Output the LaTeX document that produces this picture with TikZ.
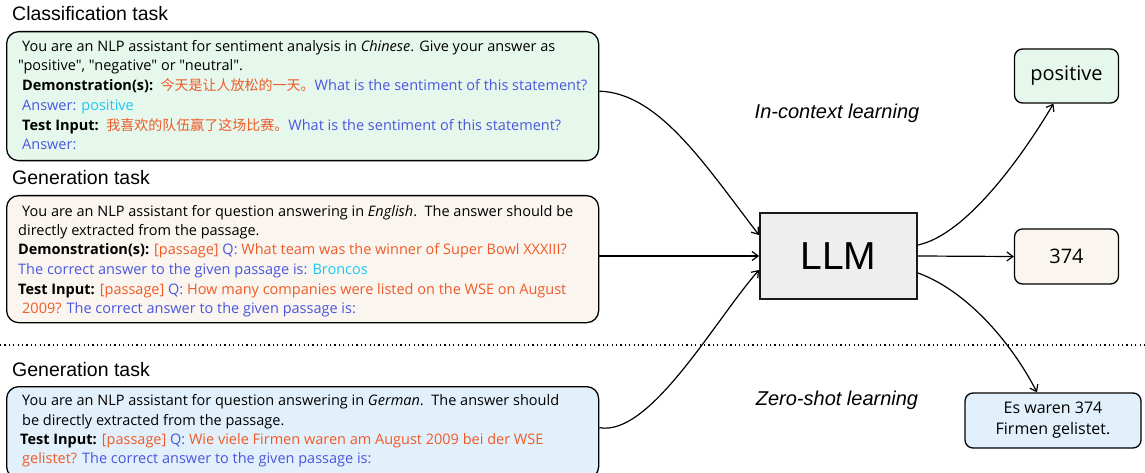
\documentclass[tikz,border=0pt]{standalone}
\usepackage{fontspec}
\setmainfont{Open Sans}
\newfontfamily\plainq{Open Sans}[Ligatures=TeXOff]
\newfontfamily\helv{Liberation Sans}
\newfontfamily\cjk{Noto Sans CJK SC}
\usetikzlibrary{arrows.meta}
\definecolor{qorange}{HTML}{F05A28}
\definecolor{qblue}{HTML}{4A56E0}
\definecolor{qcyan}{HTML}{1DC8F2}
\definecolor{mintbg}{HTML}{E6F8EC}
\definecolor{beigebg}{HTML}{FAF6EF}
\definecolor{skybg}{HTML}{E1F0FA}
\definecolor{llmbg}{HTML}{EEEEEE}
\newcommand{\og}[1]{\textcolor{qorange}{#1}}
\newcommand{\bl}[1]{\textcolor{qblue}{#1}}
\newcommand{\cy}[1]{\textcolor{qcyan}{#1}}
\newcommand{\zh}[1]{\textcolor{qorange}{\cjk\fontsize{14}{16}\selectfont #1}}
\begin{document}
\begin{tikzpicture}[x=1pt,y=-1pt,
  panel/.style={draw=black, line width=1.3pt, rounded corners=12pt, anchor=north west, inner sep=0pt},
  outbox/.style={draw=black, line width=1.3pt, rounded corners=8pt, inner sep=0pt, align=center},
  txt/.style={anchor=base west, inner sep=0pt, font=\fontsize{14.5}{16}\selectfont},
  ttl/.style={anchor=base west, inner sep=0pt, font=\helv\fontsize{19.5}{22}\selectfont},
  lbl/.style={inner sep=0pt, font=\helv\itshape\fontsize{20}{22}\selectfont},
  arr/.style={line width=1.2pt, -{Straight Barb[length=6pt,width=9pt,line width=1.2pt]}}
]
\useasboundingbox (0,0) rectangle (1145,473);

% titles
\node[ttl] (t1) at (12,21) {Classification task};
\node[ttl] (t2) at (12,185) {Generation task};
\node[ttl] (t3) at (12,376) {Generation task};

% panels
\node[panel, fill=mintbg, minimum width=592pt, minimum height=129pt] (cls) at (6,31) {};
\node[panel, fill=beigebg, minimum width=592pt, minimum height=127pt] (gen) at (6,195) {};
\node[panel, fill=skybg, minimum width=592pt, minimum height=92pt] (zs) at (6,386) {};

% panel 1 text
\node[txt] (c1) at (22,52) {You are an NLP assistant for sentiment analysis in \textit{Chinese}. Give your answer as};
\node[txt] (c2) at (18,71) {\plainq "positive", "negative" or "neutral".};
\node[txt] (c3) at (22,91) {\textbf{Demonstration(s):}\ \ \zh{今天是让人放松的一天。}\bl{What is the sentiment of this statement?}};
\node[txt] (c4) at (22,111) {\bl{Answer:} \cy{positive}};
\node[txt] (c5) at (22,131) {\textbf{Test Input:}\ \ \zh{我喜欢的队伍赢了这场比赛。}\bl{What is the sentiment of this statement?}};
\node[txt] (c6) at (22,150) {\bl{Answer:}};

% panel 2 text
\node[txt] (g1) at (22,216) {You are an NLP assistant for question answering in \textit{English}.\ \ The answer should be};
\node[txt] (g2) at (18,235) {directly extracted from the passage.};
\node[txt] (g3) at (18,254) {\textbf{Demonstration(s):} \og{[passage]} \bl{Q:} \og{What team was the winner of Super Bowl XXXIII?}};
\node[txt] (g4) at (18,274) {\bl{The correct answer to the given passage is:} \cy{Broncos}};
\node[txt] (g5) at (18,294) {\textbf{Test Input:} \og{[passage]} \bl{Q:} \og{How many companies were listed on the WSE on August}};
\node[txt] (g6) at (22,313) {\og{2009?} \bl{The correct answer to the given passage is:}};

% panel 3 text
\node[txt] (z1) at (22,405) {You are an NLP assistant for question answering in \textit{German}.\ \ The answer should};
\node[txt] (z2) at (22,425) {be directly extracted from the passage.};
\node[txt] (z3) at (20,444) {\textbf{Test Input:} \og{[passage]} \bl{Q:} \og{Wie viele Firmen waren am August 2009 bei der WSE}};
\node[txt] (z4) at (22,463) {\og{gelistet?} \bl{The correct answer to the given passage is:}};

% dotted separator
\coordinate (dl) at (0,345);
\coordinate (dr) at (1145,345);
\draw[line width=1.2pt, dash pattern=on 1.2pt off 3.2pt] (dl) -- (dr);

% LLM
\node[draw=black!90, line width=2pt, fill=llmbg, minimum width=157pt, minimum height=86pt, inner sep=0pt,
      font=\helv\fontsize{39}{40}\selectfont] (llm) at (838.5,256) {LLM};

% outputs
\node[outbox, fill=mintbg, minimum width=104pt, minimum height=54pt, font=\fontsize{20}{22}\selectfont] (pos) at (1066.5,76) {positive};
\node[outbox, fill=beigebg, minimum width=104pt, minimum height=55pt, font=\fontsize{20}{22}\selectfont] (num) at (1066.5,256.5) {374};
\node[outbox, fill=skybg, minimum width=176pt, minimum height=55pt, font=\fontsize{16}{21}\selectfont] (de) at (1053,420.5) {Es waren 374\\Firmen gelistet.};

% labels
\node[lbl] (icl) at (837,113) {In-context learning};
\node[lbl] (zsl) at (837,400) {Zero-shot learning};

% connectors
\draw[arr] ([yshift=5pt]cls.east) .. controls (659,93) and (705,165) .. ([yshift=21pt]llm.west);
\draw[arr] (gen.east |- llm.west) -- (llm.west);
\draw[arr] ([yshift=5pt]zs.east) .. controls (650,437) and (715,320) .. ([yshift=-14pt]llm.west);
\draw[arr] ([yshift=11pt]llm.east) .. controls (965,235) and (1020,160) .. ([xshift=-13pt]pos.south);
\draw[arr] (llm.east) -- (num.west);
\draw[arr] ([yshift=-17pt]llm.east) .. controls (965,290) and (1010,340) .. ([xshift=-16pt]de.north);
\end{tikzpicture}
\end{document}
